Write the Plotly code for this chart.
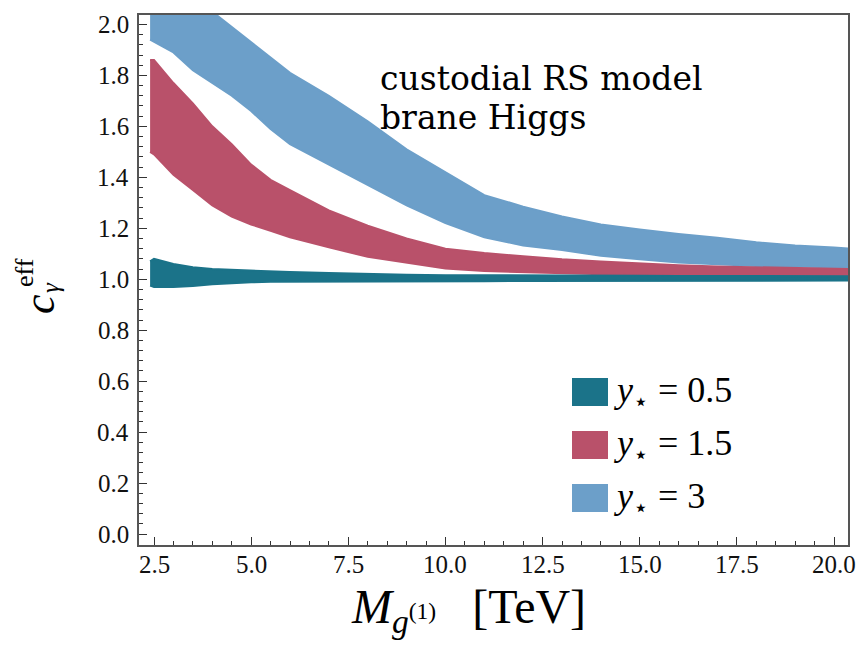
import plotly.graph_objects as go

x_grid = [2.4, 2.5, 3.0, 3.5, 4.0, 4.5, 5.0, 5.5, 6.0, 7.0, 8.0, 9.0, 10.0,
          11.0, 12.0, 13.0, 14.0, 15.0, 16.0, 17.0, 18.0, 19.0, 20.0, 20.45]

# y* = 3 (light blue) point cloud: upper / lower edges
blue_upper = [2.12, 2.14, 2.12, 2.10, 2.05, 1.99, 1.93, 1.87, 1.81, 1.72, 1.62, 1.51, 1.42,
              1.33, 1.285, 1.246, 1.215, 1.195, 1.178, 1.163, 1.145, 1.132, 1.125, 1.12]
blue_lower = [1.94, 1.93, 1.89, 1.82, 1.77, 1.72, 1.66, 1.59, 1.53, 1.45, 1.37, 1.29, 1.22,
              1.165, 1.132, 1.115, 1.092, 1.078, 1.066, 1.059, 1.052, 1.05, 1.047, 1.046]

# y* = 1.5 (red) point cloud
red_upper = [1.86, 1.86, 1.77, 1.69, 1.60, 1.53, 1.45, 1.39, 1.35, 1.27, 1.21, 1.16, 1.12,
             1.103, 1.09, 1.078, 1.07, 1.062, 1.055, 1.05, 1.047, 1.043, 1.04, 1.04]
red_lower = [1.50, 1.49, 1.41, 1.35, 1.29, 1.246, 1.215, 1.19, 1.165, 1.125, 1.088, 1.064, 1.042,
             1.032, 1.027, 1.023, 1.02, 1.016, 1.012, 1.011, 1.008, 1.007, 1.004, 1.004]

# y* = 0.5 (teal) point cloud
teal_upper = [1.07, 1.08, 1.06, 1.047, 1.04, 1.037, 1.035, 1.03, 1.028, 1.024, 1.02, 1.018, 1.016,
              1.016, 1.015, 1.015, 1.014, 1.014, 1.013, 1.013, 1.012, 1.012, 1.012, 1.012]
teal_lower = [0.975, 0.97, 0.97, 0.973, 0.98, 0.985, 0.988, 0.99, 0.99, 0.991, 0.992, 0.992, 0.992,
              0.992, 0.993, 0.993, 0.993, 0.994, 0.994, 0.994, 0.995, 0.995, 0.995, 0.995]

series_names = ["y* = 3", "y* = 1.5", "y* = 0.5"]
NB = "\u00a0"
legend_labels = ["<i>y</i><sub>⋆</sub>" + NB + "=" + NB + "0.5",
                 "<i>y</i><sub>⋆</sub>" + NB + "=" + NB + "1.5",
                 "<i>y</i><sub>⋆</sub>" + NB + "=" + NB + "3"]
colors = {"teal": "#1B7389", "red": "#B9516A", "blue": "#6C9FC9"}

x_ticks = [2.5, 5.0, 7.5, 10.0, 12.5, 15.0, 17.5, 20.0]
x_ticklabels = ["2.5", "5.0", "7.5", "10.0", "12.5", "15.0", "17.5", "20.0"]
y_ticks = [0.0, 0.2, 0.4, 0.6, 0.8, 1.0, 1.2, 1.4, 1.6, 1.8, 2.0]
y_ticklabels = ["0.0", "0.2", "0.4", "0.6", "0.8", "1.0", "1.2", "1.4", "1.6", "1.8", "2.0"]

TIMES = "Liberation Serif, Times New Roman, serif"
WIDE_SERIF = "DejaVu Serif, serif"

fig = go.Figure()


def band(upper, lower, color, name):
    xs = list(x_grid) + list(x_grid[::-1])
    ys = list(upper) + list(lower[::-1])
    fig.add_trace(go.Scatter(x=xs, y=ys, fill="toself", fillcolor=color,
                             mode="lines", line=dict(color=color, width=2),
                             name=name, showlegend=False, hoverinfo="skip"))


band(blue_upper, blue_lower, colors["blue"], series_names[0])
band(red_upper, red_lower, colors["red"], series_names[1])
band(teal_upper, teal_lower, colors["teal"], series_names[2])

L, R, T, B = 139, 14, 15, 102
W, H = 862, 647
pw, ph = W - L - R, H - T - B


def px(xp):
    return (xp - L) / pw


def py(yp):
    return (H - B - yp) / ph


annotations = []
# tick labels drawn as text at the axis tick positions
for v, t in zip(x_ticks, x_ticklabels):
    annotations.append(dict(x=v, xref="x", y=py(564), yref="paper", xanchor="center", yanchor="middle",
                            text=t, showarrow=False, font=dict(family=TIMES, size=25, color="#111")))
for v, t in zip(y_ticks, y_ticklabels):
    annotations.append(dict(x=px(131), xref="paper", y=v, yref="y", xanchor="right", yanchor="middle",
                            text=t, showarrow=False, font=dict(family=TIMES, size=25, color="#111")))

annotations.append(dict(x=px(378), y=py(79), xref="paper", yref="paper", xanchor="left", yanchor="middle",
                        text="custodial RS model", showarrow=False, align="left",
                        font=dict(family=WIDE_SERIF, size=33, color="#000")))
annotations.append(dict(x=px(378), y=py(118), xref="paper", yref="paper", xanchor="left", yanchor="middle",
                        text="brane Higgs", showarrow=False, align="left",
                        font=dict(family=WIDE_SERIF, size=33, color="#000")))
annotations.append(dict(x=px(468), y=py(610), xref="paper", yref="paper", xanchor="center", yanchor="middle",
                        text="<i>M</i><sub><i>g</i><sup>(1)</sup></sub>" + NB + NB + NB + "[TeV]",
                        showarrow=False, font=dict(family=TIMES, size=48, color="#000")))
annotations.append(dict(x=px(39), y=py(304), xref="paper", yref="paper", xanchor="center", yanchor="middle",
                        text="<i>c</i>", textangle=-90, showarrow=False,
                        font=dict(family=TIMES, size=44, color="#000")))
annotations.append(dict(x=px(50), y=py(288), xref="paper", yref="paper", xanchor="center", yanchor="middle",
                        text="<i>γ</i>", textangle=-90, showarrow=False,
                        font=dict(family=TIMES, size=25, color="#000")))
annotations.append(dict(x=px(24), y=py(273), xref="paper", yref="paper", xanchor="center", yanchor="middle",
                        text="eff", textangle=-90, showarrow=False,
                        font=dict(family=TIMES, size=26, color="#000")))

shapes = []
legend_colors = [colors["teal"], colors["red"], colors["blue"]]
legend_y = [392, 445, 498]
for lab, col, ly in zip(legend_labels, legend_colors, legend_y):
    shapes.append(dict(type="rect", xref="paper", yref="paper",
                       x0=px(572), x1=px(608), y0=py(ly + 14), y1=py(ly - 14),
                       fillcolor=col, line=dict(width=0)))
    annotations.append(dict(x=px(612), y=py(ly), xref="paper", yref="paper", xanchor="left", yanchor="middle",
                            text=lab, showarrow=False,
                            font=dict(family=TIMES, size=36, color="#000")))

axis_common = dict(ticks="inside", ticklen=8, tickwidth=1.2, tickcolor="#333",
                   showline=True, linecolor="#555", linewidth=1.5, mirror=True,
                   showgrid=False, zeroline=False, showticklabels=False)

fig.update_layout(
    width=W, height=H, margin=dict(l=L, r=R, t=T, b=B),
    paper_bgcolor="white", plot_bgcolor="white",
    font=dict(family=TIMES, size=25, color="#111"),
    xaxis=dict(range=[2.114, 20.36], tickmode="array", tickvals=x_ticks,
               minor=dict(dtick=0.5, ticklen=4, tickwidth=1, tickcolor="#333", ticks="inside"),
               **axis_common),
    yaxis=dict(range=[-0.043, 2.037], tickmode="array", tickvals=y_ticks,
               minor=dict(dtick=0.04, ticklen=4, tickwidth=1, tickcolor="#333", ticks="inside"),
               **axis_common),
    annotations=annotations, shapes=shapes, showlegend=False)

fig.write_html("out.html")
